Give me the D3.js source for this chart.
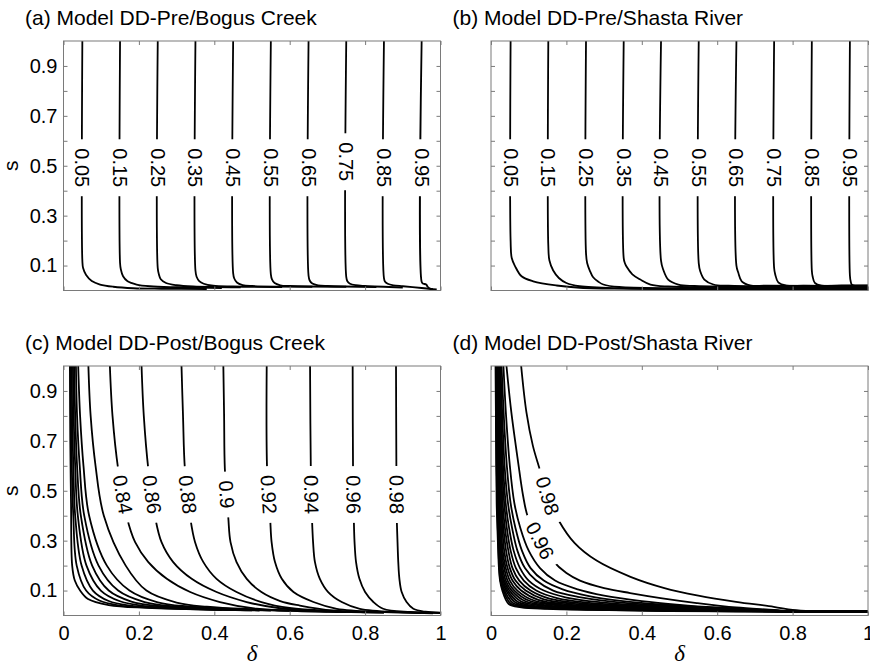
<!DOCTYPE html>
<html>
<head>
<meta charset="utf-8">
<script src="https://cdnjs.cloudflare.com/ajax/libs/d3/7.8.5/d3.min.js"></script>
<style>
  body { margin: 0; background: #fff; }
  text { font-family: "Liberation Sans", Arial, Helvetica, sans-serif; }
</style>
</head>
<body>
<div id="chart"></div>
<script>
// Panel (a) DD-Pre / Bogus Creek: contour levels, points [delta, s], label height s
const levelsA = [0.05, 0.15, 0.25, 0.35, 0.45, 0.55, 0.65, 0.75, 0.85, 0.95];
const linesA = [
  [[0.05,1],[0.05,0.12],[0.052,0.09],[0.06,0.062],[0.075,0.038],[0.097,0.024],[0.132,0.015],[0.185,0.009],[0.26,0.007],[0.38,0.006]],
  [[0.15,1],[0.15,0.11],[0.152,0.085],[0.158,0.057],[0.17,0.037],[0.194,0.024],[0.229,0.017],[0.3,0.013],[0.42,0.01]],
  [[0.25,1],[0.25,0.09],[0.253,0.065],[0.258,0.045],[0.272,0.03],[0.3,0.021],[0.344,0.016],[0.47,0.013]],
  [[0.35,1],[0.35,0.08],[0.353,0.055],[0.36,0.038],[0.372,0.027],[0.397,0.019],[0.45,0.016],[0.58,0.014]],
  [[0.45,1],[0.45,0.07],[0.453,0.048],[0.46,0.032],[0.475,0.022],[0.5,0.018],[0.66,0.015]],
  [[0.55,1],[0.55,0.065],[0.553,0.045],[0.56,0.03],[0.575,0.021],[0.6,0.018],[0.75,0.015]],
  [[0.65,1],[0.65,0.06],[0.653,0.04],[0.66,0.028],[0.675,0.021],[0.7,0.018],[0.83,0.014]],
  [[0.75,1],[0.75,0.055],[0.753,0.037],[0.76,0.027],[0.775,0.021],[0.8,0.018],[0.9,0.012]],
  [[0.85,1],[0.85,0.05],[0.853,0.035],[0.86,0.027],[0.875,0.021],[0.9,0.017],[0.95,0.01],[0.98,0.005]],
  [[0.95,1],[0.95,0.035],[0.953,0.028],[0.962,0.024],[0.966,0.015],[0.972,0.008],[0.99,0.004]]
];
const labelsA = [0.492, 0.492, 0.492, 0.492, 0.492, 0.492, 0.492, 0.516, 0.492, 0.492];

// Panel (b) DD-Pre / Shasta River
const levelsB = [0.05, 0.15, 0.25, 0.35, 0.45, 0.55, 0.65, 0.75, 0.85, 0.95];
const linesB = [
  [[0.052,1],[0.052,0.2],[0.055,0.13],[0.064,0.097],[0.081,0.057],[0.112,0.037],[0.174,0.02],[0.236,0.011],[0.4,0.007],[1,0.005]],
  [[0.152,1],[0.152,0.18],[0.155,0.12],[0.165,0.08],[0.18,0.05],[0.2,0.03],[0.235,0.017],[0.35,0.009],[1,0.007]],
  [[0.252,1],[0.252,0.15],[0.255,0.11],[0.262,0.08],[0.271,0.053],[0.285,0.035],[0.298,0.024],[0.34,0.014],[1,0.01]],
  [[0.352,1],[0.352,0.13],[0.355,0.11],[0.359,0.097],[0.375,0.065],[0.396,0.044],[0.423,0.024],[0.47,0.016],[1,0.012]],
  [[0.451,1],[0.451,0.12],[0.457,0.083],[0.47,0.044],[0.497,0.024],[0.54,0.018],[1,0.014]],
  [[0.551,1],[0.551,0.11],[0.555,0.077],[0.566,0.044],[0.59,0.024],[0.63,0.019],[1,0.016]],
  [[0.651,1],[0.651,0.1],[0.656,0.071],[0.665,0.037],[0.687,0.021],[0.73,0.019],[1,0.018]],
  [[0.751,1],[0.751,0.09],[0.754,0.064],[0.762,0.033],[0.784,0.02],[0.83,0.019],[1,0.019]],
  [[0.851,1],[0.851,0.08],[0.853,0.057],[0.859,0.031],[0.877,0.02],[0.93,0.02],[1,0.02]],
  [[0.952,1],[0.952,0.06],[0.954,0.037],[0.957,0.024],[0.97,0.017],[1,0.016]]
];
const labelsB = [0.492, 0.492, 0.492, 0.492, 0.492, 0.492, 0.492, 0.492, 0.492, 0.492];

// Panel (c) DD-Post / Bogus Creek
const levelsC = [0.68, 0.70, 0.72, 0.74, 0.76, 0.78, 0.80, 0.82, 0.84, 0.86, 0.88, 0.9, 0.92, 0.94, 0.96, 0.98];
const linesC = [
  [[0.017,1],[0.018,0.7],[0.02,0.45],[0.023,0.2],[0.03,0.14],[0.044,0.1],[0.065,0.066],[0.12,0.042],[0.22,0.031],[0.42,0.023]],
  [[0.019,1],[0.02,0.8],[0.022,0.6],[0.026,0.4],[0.035,0.2],[0.06,0.1],[0.095,0.06],[0.145,0.041],[0.26,0.03],[0.45,0.022]],
  [[0.022,1],[0.023,0.8],[0.026,0.6],[0.031,0.4],[0.048,0.2],[0.078,0.1],[0.12,0.058],[0.175,0.04],[0.3,0.029],[0.5,0.021]],
  [[0.025,1],[0.027,0.8],[0.031,0.6],[0.038,0.4],[0.061,0.2],[0.099,0.1],[0.15,0.057],[0.21,0.039],[0.34,0.028],[0.52,0.02]],
  [[0.028,1],[0.031,0.8],[0.036,0.6],[0.046,0.4],[0.076,0.2],[0.12,0.1],[0.18,0.056],[0.25,0.038],[0.38,0.028],[0.55,0.02]],
  [[0.033,1],[0.036,0.8],[0.043,0.6],[0.055,0.4],[0.093,0.2],[0.145,0.1],[0.215,0.054],[0.29,0.037],[0.42,0.027],[0.6,0.019]],
  [[0.039,1],[0.044,0.8],[0.053,0.6],[0.068,0.4],[0.115,0.2],[0.175,0.1],[0.25,0.053],[0.33,0.036],[0.45,0.026],[0.65,0.018]],
  [[0.066,1],[0.072,0.8],[0.085,0.6],[0.107,0.4],[0.165,0.2],[0.22,0.1],[0.3,0.052],[0.38,0.035],[0.5,0.025],[0.7,0.017]],
  [[0.123,1],[0.13,0.8],[0.145,0.587],[0.168,0.394],[0.19,0.294],[0.225,0.214],[0.274,0.147],[0.336,0.094],[0.415,0.054],[0.512,0.027],[0.62,0.018],[0.75,0.014]],
  [[0.207,1],[0.213,0.8],[0.225,0.587],[0.243,0.394],[0.26,0.294],[0.291,0.214],[0.34,0.147],[0.406,0.094],[0.486,0.054],[0.57,0.03],[0.68,0.018],[0.8,0.013]],
  [[0.313,1],[0.317,0.8],[0.322,0.587],[0.336,0.394],[0.349,0.294],[0.371,0.214],[0.406,0.147],[0.459,0.094],[0.525,0.054],[0.6,0.03],[0.72,0.018],[0.85,0.012]],
  [[0.424,1],[0.426,0.8],[0.428,0.587],[0.437,0.394],[0.443,0.294],[0.459,0.214],[0.486,0.147],[0.525,0.094],[0.575,0.058],[0.627,0.04],[0.715,0.02],[0.85,0.012]],
  [[0.539,1],[0.54,0.587],[0.548,0.394],[0.552,0.294],[0.561,0.214],[0.579,0.147],[0.61,0.094],[0.663,0.054],[0.725,0.027],[0.85,0.014],[0.95,0.01]],
  [[0.654,1],[0.656,0.587],[0.659,0.394],[0.662,0.294],[0.667,0.214],[0.68,0.147],[0.702,0.094],[0.738,0.054],[0.786,0.027],[0.9,0.013],[0.98,0.009]],
  [[0.767,1],[0.768,0.587],[0.77,0.394],[0.772,0.294],[0.776,0.214],[0.785,0.147],[0.8,0.094],[0.822,0.054],[0.848,0.027],[0.92,0.014],[1,0.01]],
  [[0.882,1],[0.883,0.587],[0.884,0.394],[0.886,0.294],[0.888,0.214],[0.891,0.147],[0.897,0.094],[0.91,0.054],[0.928,0.027],[0.96,0.015],[1,0.011]]
];
const labelsC = [null, null, null, null, null, null, null, null, 0.485, 0.485, 0.485, 0.485, 0.485, 0.485, 0.485, 0.485];

// Panel (d) DD-Post / Shasta River
const levelsD = [0.62, 0.64, 0.66, 0.68, 0.70, 0.72, 0.74, 0.76, 0.78, 0.80, 0.82, 0.84, 0.86, 0.88, 0.90, 0.92, 0.94, 0.96, 0.98];
const linesD = [
  [[0.012,1],[0.013,0.8],[0.014,0.6],[0.015,0.45],[0.017,0.35],[0.019,0.26],[0.021,0.19],[0.024,0.14],[0.03,0.1],[0.047,0.046],[0.08,0.033],[0.15,0.027],[0.27,0.023],[0.47,0.018],[0.78,0.016],[1,0.015]],
  [[0.013,1],[0.014,0.8],[0.015,0.6],[0.016,0.45],[0.018,0.35],[0.02,0.26],[0.022,0.19],[0.025,0.14],[0.033,0.1],[0.052,0.048],[0.09,0.034],[0.16,0.028],[0.28,0.023],[0.48,0.019],[0.78,0.016],[1,0.015]],
  [[0.013,1],[0.014,0.8],[0.015,0.6],[0.017,0.45],[0.019,0.35],[0.021,0.26],[0.023,0.19],[0.027,0.14],[0.036,0.1],[0.058,0.05],[0.1,0.035],[0.17,0.029],[0.3,0.024],[0.5,0.019],[0.78,0.016],[1,0.015]],
  [[0.014,1],[0.015,0.8],[0.016,0.6],[0.018,0.45],[0.02,0.35],[0.022,0.26],[0.024,0.19],[0.029,0.14],[0.04,0.1],[0.065,0.052],[0.11,0.036],[0.19,0.03],[0.32,0.024],[0.52,0.019],[0.78,0.016],[1,0.015]],
  [[0.014,1],[0.015,0.8],[0.017,0.6],[0.019,0.45],[0.021,0.35],[0.023,0.26],[0.026,0.19],[0.032,0.14],[0.044,0.1],[0.072,0.054],[0.125,0.037],[0.21,0.031],[0.34,0.025],[0.53,0.02],[0.78,0.016],[1,0.015]],
  [[0.015,1],[0.016,0.8],[0.018,0.6],[0.02,0.45],[0.022,0.35],[0.024,0.26],[0.028,0.19],[0.035,0.14],[0.049,0.1],[0.08,0.056],[0.14,0.039],[0.23,0.032],[0.36,0.026],[0.55,0.02],[0.78,0.016],[1,0.015]],
  [[0.015,1],[0.017,0.8],[0.019,0.6],[0.021,0.45],[0.023,0.35],[0.026,0.26],[0.031,0.19],[0.039,0.14],[0.055,0.1],[0.09,0.058],[0.155,0.04],[0.25,0.033],[0.38,0.026],[0.56,0.02],[0.78,0.017],[1,0.016]],
  [[0.016,1],[0.018,0.8],[0.02,0.6],[0.022,0.45],[0.025,0.35],[0.028,0.26],[0.035,0.19],[0.044,0.14],[0.062,0.1],[0.1,0.06],[0.17,0.042],[0.27,0.034],[0.4,0.027],[0.58,0.021],[0.78,0.017],[1,0.016]],
  [[0.017,1],[0.019,0.8],[0.021,0.6],[0.024,0.45],[0.027,0.35],[0.031,0.26],[0.039,0.19],[0.05,0.14],[0.07,0.1],[0.112,0.061],[0.185,0.043],[0.29,0.035],[0.42,0.028],[0.6,0.021],[0.78,0.017],[1,0.016]],
  [[0.018,1],[0.02,0.8],[0.023,0.6],[0.026,0.45],[0.03,0.35],[0.035,0.26],[0.044,0.19],[0.057,0.14],[0.08,0.1],[0.125,0.063],[0.2,0.045],[0.31,0.036],[0.44,0.028],[0.6,0.022],[0.78,0.017],[1,0.016]],
  [[0.019,1],[0.021,0.8],[0.025,0.6],[0.028,0.45],[0.033,0.35],[0.04,0.26],[0.05,0.19],[0.065,0.14],[0.092,0.1],[0.14,0.065],[0.22,0.047],[0.33,0.037],[0.46,0.029],[0.6,0.022],[0.78,0.018],[1,0.016]],
  [[0.02,1],[0.023,0.8],[0.027,0.6],[0.031,0.45],[0.037,0.35],[0.046,0.26],[0.057,0.19],[0.075,0.14],[0.105,0.1],[0.155,0.068],[0.24,0.049],[0.35,0.038],[0.48,0.03],[0.62,0.023],[0.78,0.018],[1,0.016]],
  [[0.021,1],[0.025,0.8],[0.029,0.6],[0.035,0.45],[0.042,0.35],[0.052,0.26],[0.066,0.19],[0.087,0.14],[0.12,0.1],[0.175,0.07],[0.26,0.051],[0.37,0.04],[0.5,0.031],[0.65,0.023],[0.78,0.018],[1,0.016]],
  [[0.023,1],[0.027,0.8],[0.032,0.6],[0.039,0.45],[0.048,0.35],[0.06,0.26],[0.077,0.19],[0.1,0.14],[0.14,0.1],[0.2,0.072],[0.29,0.053],[0.4,0.041],[0.52,0.032],[0.65,0.024],[0.78,0.018],[1,0.016]],
  [[0.025,1],[0.03,0.8],[0.036,0.6],[0.045,0.45],[0.056,0.35],[0.07,0.26],[0.09,0.19],[0.12,0.14],[0.165,0.1],[0.23,0.075],[0.32,0.056],[0.42,0.043],[0.53,0.033],[0.65,0.025],[0.78,0.018],[1,0.016]],
  [[0.028,1],[0.034,0.8],[0.042,0.6],[0.052,0.45],[0.065,0.35],[0.082,0.26],[0.105,0.19],[0.14,0.14],[0.19,0.105],[0.26,0.078],[0.35,0.058],[0.45,0.044],[0.55,0.034],[0.65,0.026],[0.78,0.018],[1,0.015]],
  [[0.033,1],[0.04,0.8],[0.05,0.6],[0.062,0.45],[0.078,0.35],[0.1,0.26],[0.13,0.19],[0.17,0.14],[0.23,0.105],[0.3,0.08],[0.4,0.058],[0.5,0.043],[0.6,0.032],[0.7,0.024],[0.8,0.017],[1,0.014]],
  [[0.041,1],[0.054,0.814],[0.072,0.614],[0.085,0.481],[0.098,0.394],[0.13,0.3],[0.164,0.22],[0.2,0.17],[0.236,0.14],[0.3,0.11],[0.369,0.09],[0.45,0.07],[0.546,0.05],[0.65,0.032],[0.75,0.022],[0.8,0.016],[1,0.014]],
  [[0.08,1],[0.094,0.814],[0.111,0.681],[0.129,0.587],[0.15,0.48],[0.18,0.38],[0.222,0.29],[0.28,0.22],[0.37,0.155],[0.46,0.11],[0.55,0.08],[0.65,0.055],[0.75,0.035],[0.8,0.022],[0.85,0.017],[1,0.015]]
];
const labelsD = [null, null, null, null, null, null, null, null, null, null, null, null, null, null, null, null, null, 0.3, 0.48];

// Axis ticks
const xTicks = [0, 0.2, 0.4, 0.6, 0.8, 1];
const yTicks = [0.1, 0.2, 0.3, 0.4, 0.5, 0.6, 0.7, 0.8, 0.9];
const yTickLabels = [0.1, 0.3, 0.5, 0.7, 0.9];

const width = 870, height = 668;
const pw = 377, ph = 249.5;

const panels = [
  { title: "(a) Model DD-Pre/Bogus Creek",   left: 63.5, top: 41,  levels: levelsA, lines: linesA, labels: labelsA, yText: true,  xText: false },
  { title: "(b) Model DD-Pre/Shasta River",  left: 491,  top: 41,  levels: levelsB, lines: linesB, labels: labelsB, yText: false, xText: false },
  { title: "(c) Model DD-Post/Bogus Creek",  left: 63.5, top: 366, levels: levelsC, lines: linesC, labels: labelsC, yText: true,  xText: true },
  { title: "(d) Model DD-Post/Shasta River", left: 491,  top: 366, levels: levelsD, lines: linesD, labels: labelsD, yText: false, xText: true }
];

const svg = d3.select("#chart")
  .append("svg")
  .attr("width", width)
  .attr("height", height);

const frameColor = "#7a7a7a";

panels.forEach((p, i) => {
  const x = d3.scaleLinear().domain([0, 1]).range([p.left, p.left + pw]);
  const y = d3.scaleLinear().domain([0, 1]).range([p.top + ph, p.top]);

  const g = svg.append("g");

  svg.append("clipPath").attr("id", "clip" + i)
    .append("rect")
    .attr("x", p.left).attr("y", p.top)
    .attr("width", pw).attr("height", ph);

  const line = d3.line()
    .x(d => x(d[0]))
    .y(d => y(d[1]))
    .curve(d3.curveCatmullRom.alpha(0.5));

  const plot = g.append("g").attr("clip-path", `url(#clip${i})`);

  plot.selectAll("path")
    .data(p.lines)
    .join("path")
    .attr("d", line)
    .attr("fill", "none")
    .attr("stroke", "#000")
    .attr("stroke-width", 1.8)
    .attr("stroke-linejoin", "round");

  // contour labels, placed on the line and turned along it
  p.levels.forEach((lev, k) => {
    const ls = p.labels[k];
    if (ls == null) return;
    const pts = p.lines[k];
    const j = pts.findIndex((q, idx) => idx > 0 && q[1] <= ls);
    const a = pts[j - 1], b = pts[j];
    const t = (a[1] - ls) / (a[1] - b[1]);
    const dl = a[0] + t * (b[0] - a[0]);
    const ang = Math.atan2(y(b[1]) - y(a[1]), x(b[0]) - x(a[0])) * 180 / Math.PI;

    const lg = plot.append("g")
      .attr("transform", `translate(${x(dl)},${y(ls)}) rotate(${ang})`);
    const txt = lg.append("text")
      .attr("text-anchor", "middle")
      .attr("dy", "0.35em")
      .attr("font-size", 20)
      .attr("fill", "#000")
      .text(String(lev));
    const bb = txt.node().getBBox();
    lg.insert("rect", "text")
      .attr("x", -bb.width / 2 - 9)
      .attr("y", -9)
      .attr("width", bb.width + 18)
      .attr("height", 18)
      .attr("fill", "#fff");
  });

  // axes with inward ticks on all four sides
  const styleAxis = sel => {
    sel.select(".domain").remove();
    sel.selectAll(".tick line").attr("stroke", frameColor);
    sel.attr("font-size", 20)
      .attr("font-family", '"Liberation Sans", Arial, Helvetica, sans-serif');
    sel.selectAll(".tick text").attr("fill", "#000");
  };

  g.append("g")
    .attr("transform", `translate(0,${p.top + ph})`)
    .call(d3.axisBottom(x).tickValues(xTicks).tickSize(-4).tickPadding(10)
      .tickFormat(d => p.xText ? d3.format("")(d) : ""))
    .call(styleAxis);

  g.append("g")
    .attr("transform", `translate(0,${p.top})`)
    .call(d3.axisTop(x).tickValues(xTicks).tickSize(-4).tickFormat(""))
    .call(styleAxis);

  g.append("g")
    .attr("transform", `translate(${p.left},0)`)
    .call(d3.axisLeft(y).tickValues(yTicks).tickSize(-4).tickPadding(6)
      .tickFormat(d => (p.yText && yTickLabels.includes(d)) ? d3.format(".1f")(d) : ""))
    .call(styleAxis);

  g.append("g")
    .attr("transform", `translate(${p.left + pw},0)`)
    .call(d3.axisRight(y).tickValues(yTicks).tickSize(-4).tickFormat(""))
    .call(styleAxis);

  // frame
  g.append("rect")
    .attr("x", p.left).attr("y", p.top)
    .attr("width", pw).attr("height", ph)
    .attr("fill", "none")
    .attr("stroke", frameColor)
    .attr("stroke-width", 1);

  // panel title
  g.append("text")
    .attr("x", p.left - 38.5)
    .attr("y", p.top - 16)
    .attr("font-size", 21)
    .attr("fill", "#000")
    .text(p.title);

  // axis labels
  if (p.yText) {
    g.append("text")
      .attr("transform", `translate(18,${p.top + ph / 2}) rotate(-90)`)
      .attr("text-anchor", "middle")
      .attr("font-size", 21)
      .text("s");
  }
  if (p.xText) {
    g.append("text")
      .attr("x", p.left + pw / 2)
      .attr("y", 661)
      .attr("text-anchor", "middle")
      .attr("font-size", 23)
      .attr("font-style", "italic")
      .style("font-family", '"Liberation Serif", "DejaVu Serif", serif')
      .text("δ");
  }
});
</script>
</body>
</html>
